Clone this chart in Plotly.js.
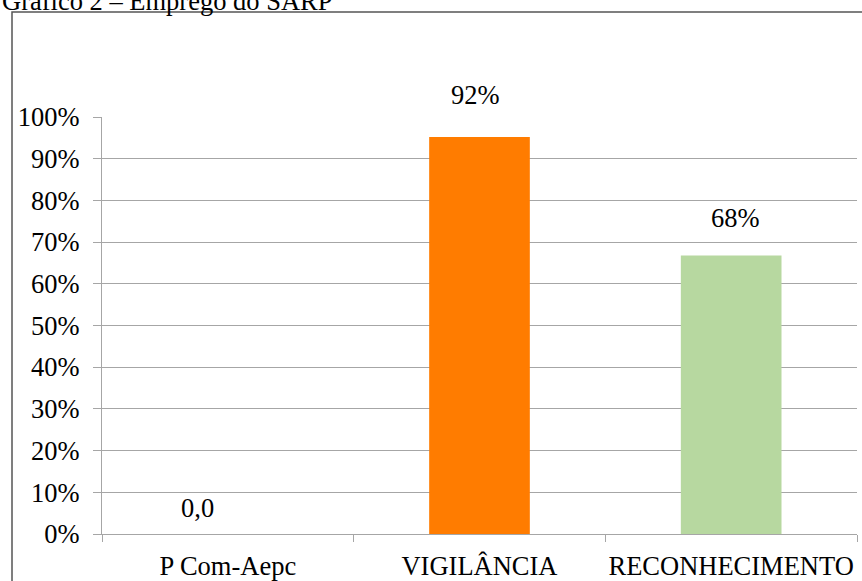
<!DOCTYPE html>
<html>
<head>
<meta charset="utf-8">
<script src="https://cdn.plot.ly/plotly-3.0.1.min.js"></script>
<style>
  html, body { margin: 0; padding: 0; background: #ffffff; }
  #chart { width: 862px; height: 581px; }
</style>
</head>
<body>
<div id="chart"></div>
<script>
// ---- data ----
const chartTitle = 'Gráfico 2 – Emprego do SARP';
const categories = ['P Com-Aepc', 'VIGILÂNCIA', 'RECONHECIMENTO'];
const barHeights = [0, 95.2, 66.8];          // drawn bar height (%)
const barLabels  = ['0,0', '92%', '68%'];    // printed data labels
const barColors  = ['#4f81bd', '#ff7c00', '#b7d8a0'];
const yTickVals  = [0, 10, 20, 30, 40, 50, 60, 70, 80, 90, 100];
const yTickText  = ['0%', '10%', '20%', '30%', '40%', '50%', '60%', '70%', '80%', '90%', '100%'];

// ---- styling for the labels (offsets in pixels) ----
const labelXShift = [-30, -4, 4];
const labelYShift = [9, 25, 20];

const FONT = 'Liberation Serif';
const FS = 26.5;

const trace = {
  type: 'bar',
  x: categories,
  y: barHeights,
  marker: { color: barColors, line: { width: 0 } },
  hoverinfo: 'none'
};

const annotations = categories.map((c, i) => ({
  x: c, y: barHeights[i], xref: 'x', yref: 'y',
  text: barLabels[i], showarrow: false,
  yanchor: 'bottom', xanchor: 'center',
  xshift: labelXShift[i], yshift: labelYShift[i],
  font: { family: FONT, size: FS, color: '#000' }
}));

annotations.push({
  xref: 'paper', yref: 'paper', x: -0.1351, y: 1.262,
  xanchor: 'left', yanchor: 'bottom', showarrow: false,
  yshift: -10,
  text: chartTitle,
  font: { family: FONT, size: FS, color: '#000' }
});

const layout = {
  width: 862, height: 581,
  margin: { l: 102, r: 5, t: 117, b: 47, pad: 0 },
  paper_bgcolor: '#ffffff', plot_bgcolor: '#ffffff',
  showlegend: false,
  bargap: 0.6,
  font: { family: FONT, size: FS, color: '#000' },
  xaxis: {
    type: 'category',
    tickson: 'boundaries',
    tickangle: 0,
    ticks: 'outside', ticklen: 7, tickcolor: '#a6a6a6', tickwidth: 1,
    showline: true, linecolor: '#a6a6a6', linewidth: 1,
    showgrid: false, zeroline: false,
    tickfont: { family: FONT, size: FS, color: '#000' },
    ticklabelstandoff: 8
  },
  yaxis: {
    range: [0, 100],
    tickvals: yTickVals, ticktext: yTickText,
    ticks: 'outside', ticklen: 8, tickcolor: '#a6a6a6', tickwidth: 1,
    showline: true, linecolor: '#a6a6a6', linewidth: 1,
    showgrid: true, gridcolor: '#a6a6a6', gridwidth: 1,
    zeroline: false,
    tickfont: { family: FONT, size: FS, color: '#000' },
    ticklabelstandoff: 8
  },
  shapes: [{
    type: 'rect', xref: 'paper', yref: 'paper',
    x0: -0.1192, x1: 1.02, y0: -0.2, y1: 1.2518,
    line: { color: '#555555', width: 1.5 },
    fillcolor: 'rgba(0,0,0,0)', layer: 'above'
  }],
  annotations: annotations
};

Plotly.newPlot('chart', [trace], layout, { staticPlot: true, displayModeBar: false });
</script>
</body>
</html>
